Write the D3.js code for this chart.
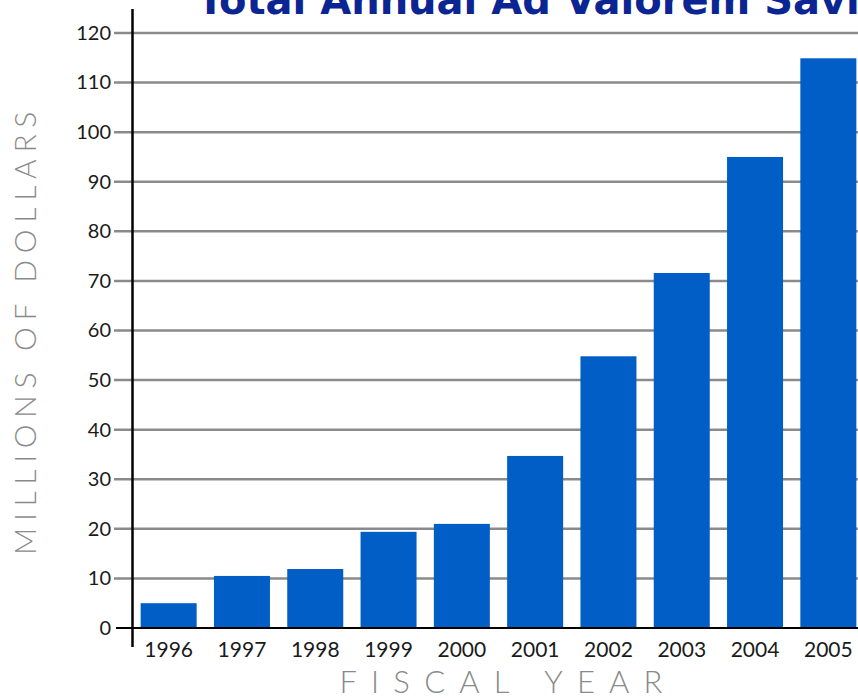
<!DOCTYPE html>
<html>
<head>
<meta charset="utf-8">
<script src="https://cdn.jsdelivr.net/npm/d3@7"></script>
<style>
    body { margin: 0; background: white; }
    svg { display: block; }
</style>
</head>
<body>
<svg class="main" width="858" height="700"></svg>
<script>
// data
const years = ['1996', '1997', '1998', '1999', '2000', '2001', '2002', '2003', '2004', '2005'],
    savings = [5.0, 10.5, 11.9, 19.4, 21.0, 34.7, 54.8, 71.6, 95.0, 114.9],
    yTicks = [0, 10, 20, 30, 40, 50, 60, 70, 80, 90, 100, 110, 120];

const svg = d3.select('svg.main'),
    labelFont = 'Lato, "Open Sans", sans-serif',
    barColor = '#005ec6',
    gridColor = '#8a8a8a';

const x = d3.scaleBand()
    .domain(years)
    .range([132, 865])
    .paddingInner(0.236)
    .paddingOuter(0.118);

const y = d3.scaleLinear()
    .domain([0, 120])
    .range([628, 33]);

// title, cut off by the top edge as in the original
svg.append('text')
    .text('Total Annual Ad Valorem Savings')
    .attr('x', 197)
    .attr('y', 14)
    .attr('fill', '#0b2592')
    .attr('font-family', '"DejaVu Sans", Verdana, sans-serif')
    .attr('font-weight', 'bold')
    .attr('font-size', 40);

// gridlines
svg.append('g')
    .selectAll('line')
    .data(yTicks.filter(d => d > 0))
    .enter()
    .append('line')
    .attr('x1', 114)
    .attr('x2', 858)
    .attr('y1', d => y(d))
    .attr('y2', d => y(d))
    .attr('stroke', gridColor)
    .attr('stroke-width', 2.5);

// bars
svg.append('g')
    .selectAll('rect')
    .data(savings)
    .enter()
    .append('rect')
    .attr('x', (d, i) => x(years[i]))
    .attr('width', x.bandwidth())
    .attr('y', d => y(d))
    .attr('height', d => y(0) - y(d))
    .attr('fill', barColor);

// y axis labels
const yAxis = svg.append('g')
    .attr('transform', 'translate(132,0)')
    .call(d3.axisLeft(y).tickValues(yTicks).tickSize(0).tickPadding(21));

yAxis.select('.domain').remove();
yAxis.selectAll('text')
    .attr('font-family', labelFont)
    .attr('font-size', 20)
    .attr('fill', '#1a1a1a');

// zero line and vertical axis
svg.append('line')
    .attr('x1', 116)
    .attr('x2', 858)
    .attr('y1', y(0))
    .attr('y2', y(0))
    .attr('stroke', '#000')
    .attr('stroke-width', 2);

svg.append('line')
    .attr('x1', 132.5)
    .attr('x2', 132.5)
    .attr('y1', 9)
    .attr('y2', 647)
    .attr('stroke', '#000')
    .attr('stroke-width', 2.5);

// x axis labels
const xAxis = svg.append('g')
    .attr('transform', 'translate(0,' + y(0) + ')')
    .call(d3.axisBottom(x).tickSize(0).tickPadding(14));

xAxis.select('.domain').remove();
xAxis.selectAll('text')
    .attr('font-family', labelFont)
    .attr('font-size', 21)
    .attr('fill', '#1a1a1a');

// axis titles
svg.append('text')
    .text('FISCAL YEAR')
    .attr('x', 508)
    .attr('y', 693)
    .attr('text-anchor', 'middle')
    .attr('fill', gridColor)
    .attr('font-family', labelFont)
    .attr('font-weight', 300)
    .attr('font-size', 31)
    .attr('letter-spacing', 14.2);

svg.append('text')
    .text('MILLIONS OF DOLLARS')
    .attr('transform', 'translate(36,330) rotate(-90)')
    .attr('text-anchor', 'middle')
    .attr('fill', gridColor)
    .attr('font-family', labelFont)
    .attr('font-weight', 300)
    .attr('font-size', 30)
    .attr('letter-spacing', 6.7);
</script>
</body>
</html>
